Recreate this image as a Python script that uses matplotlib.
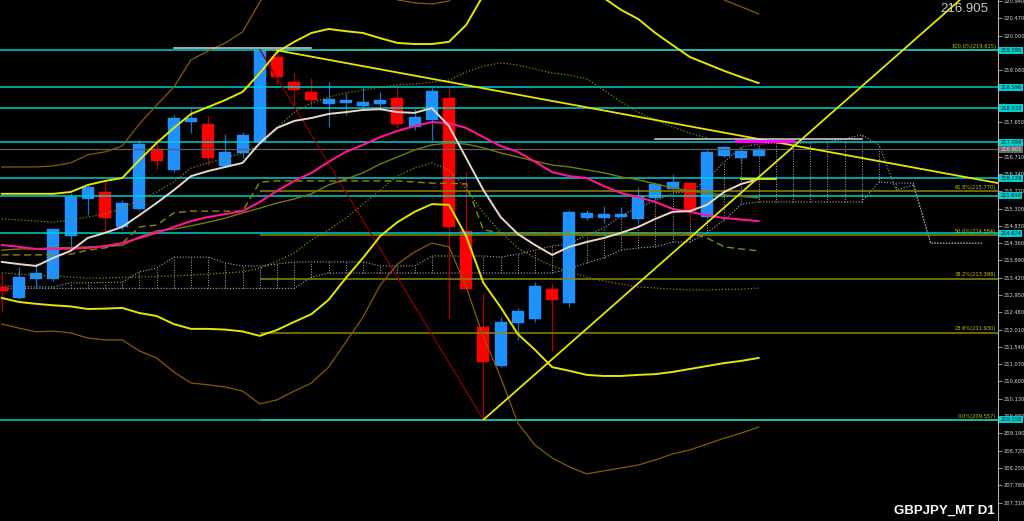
import matplotlib
matplotlib.use("Agg")
import matplotlib.pyplot as plt
import matplotlib.transforms as mtransforms
import numpy as np

# ---------------- data (prices) ----------------
opens = [213.18, 212.88, 213.38, 213.39, 214.56, 215.55, 215.75, 214.81, 215.29, 216.91,
         216.34, 217.65, 217.60, 216.46, 216.82, 217.12, 219.43, 218.75, 218.46, 218.13,
         218.16, 218.10, 218.15, 218.30, 217.52, 217.71, 218.30, 214.70, 212.09, 211.02,
         212.20, 212.30, 213.12, 212.73, 215.05, 215.05, 215.08, 215.01, 215.59, 215.84,
         215.99, 215.06, 216.73, 216.67, 216.73]
highs = [213.55, 213.72, 213.82, 214.77, 215.73, 215.94, 216.08, 215.53, 217.16, 217.21,
         217.84, 218.00, 217.82, 217.33, 217.39, 219.62, 219.56, 218.98, 218.84, 218.75,
         218.45, 218.61, 218.48, 218.57, 218.00, 218.57, 218.61, 216.30, 213.00, 212.36,
         212.59, 213.31, 213.27, 215.26, 215.26, 215.38, 215.35, 215.89, 216.03, 216.23,
         216.03, 216.89, 217.00, 216.91, 216.95]
lows = [212.49, 212.84, 213.17, 213.34, 214.26, 215.13, 214.67, 214.72, 215.26, 216.37,
        216.30, 217.36, 216.48, 216.44, 216.67, 217.11, 218.68, 218.07, 218.07, 217.52,
        217.84, 217.98, 217.98, 217.48, 217.43, 217.16, 212.32, 213.10, 209.56, 211.00,
        211.73, 212.23, 211.44, 212.63, 214.99, 214.90, 215.04, 214.94, 215.53, 215.80,
        214.94, 215.04, 216.70, 216.53, 216.70]
closes = [213.07, 213.45, 213.54, 214.74, 215.62, 215.88, 215.05, 215.46, 217.05, 216.59,
          217.76, 217.76, 216.68, 216.84, 217.29, 219.61, 218.87, 218.51, 218.25, 218.28,
          218.24, 218.19, 218.26, 217.61, 217.78, 218.50, 214.81, 213.11, 211.14, 212.21,
          212.51, 213.20, 212.82, 215.20, 215.19, 215.15, 215.14, 215.65, 215.97, 216.02,
          215.23, 216.83, 216.96, 216.86, 216.905]

ma_pink = [214.31, 214.26, 214.20, 214.20, 214.21, 214.23, 214.28, 214.36, 214.50, 214.64,
           214.80, 214.96, 215.07, 215.15, 215.23, 215.48, 215.78, 216.05, 216.27, 216.57,
           216.84, 217.03, 217.24, 217.41, 217.54, 217.65, 217.62, 217.49, 217.24, 217.00,
           216.84, 216.57, 216.29, 216.18, 216.13, 215.91, 215.72, 215.61, 215.48, 215.29,
           215.21, 215.12, 215.04, 215.00, 214.96]
ma_fast = [213.85, 213.79, 213.74, 213.96, 214.15, 214.50, 214.64, 214.80, 215.12, 215.45,
           215.80, 216.18, 216.32, 216.43, 216.54, 217.08, 217.49, 217.68, 217.76, 217.87,
           217.92, 217.98, 218.00, 217.92, 217.90, 218.03, 217.54, 216.67, 215.80, 215.07,
           214.61, 214.31, 214.04, 214.26, 214.39, 214.50, 214.64, 214.80, 215.02, 215.21,
           215.23, 215.40, 215.75, 215.97, 216.10]
ma_olive = [214.17, 214.20, 214.21, 214.23, 214.24, 214.26, 214.27, 214.30, 214.53, 214.69,
            214.74, 214.83, 214.93, 215.04, 215.18, 215.31, 215.45, 215.56, 215.70, 215.94,
            216.10, 216.27, 216.51, 216.70, 216.89, 217.03, 217.08, 217.05, 216.95, 216.81,
            216.70, 216.59, 216.48, 216.43, 216.35, 216.27, 216.16, 216.08, 215.97, 215.86,
            215.78, 215.72, 215.67, 215.63, 215.59]
kijun = [214.04, 214.04, 214.04, 214.04, 214.06, 214.17, 214.23, 214.36, 214.80, 214.85,
         215.18, 215.23, 215.23, 215.23, 215.23, 216.02, 216.05, 216.05, 216.05, 216.05,
         216.05, 216.05, 216.05, 216.05, 216.02, 215.99, 215.99, 215.97, 214.72, 214.64,
         214.64, 214.64, 214.64, 214.64, 214.64, 214.64, 214.64, 214.64, 214.64, 214.64,
         214.64, 214.50, 214.26, 214.20, 214.15]
bb_upper = [215.70, 215.70, 215.70, 215.70, 215.75, 215.94, 216.05, 216.13, 216.62, 217.08,
            217.49, 217.87, 218.06, 218.25, 218.47, 218.98, 219.55, 219.83, 220.07, 220.18,
            220.12, 220.07, 219.93, 219.80, 219.77, 219.77, 219.83, 220.29, 221.10, 222.33,
            223.28, 223.68, 223.55, 222.87, 221.92, 221.02, 220.70, 220.45, 220.07, 219.74,
            219.42, 219.23, 219.04, 218.87, 218.71]
bb_lower = [212.87, 212.76, 212.71, 212.67, 212.64, 212.57, 212.58, 212.60, 212.46, 212.38,
            212.16, 212.03, 212.03, 212.01, 211.96, 211.84, 212.00, 212.22, 212.43, 212.82,
            213.41, 213.96, 214.55, 214.93, 215.21, 215.42, 215.40, 214.55, 213.28, 212.62,
            211.89, 211.46, 210.99, 210.89, 210.78, 210.75, 210.75, 210.78, 210.80, 210.86,
            210.94, 211.02, 211.10, 211.16, 211.24]
outer_upper = [216.43, 216.43, 216.43, 216.46, 216.54, 216.76, 216.84, 217.00, 217.60, 218.11,
               218.60, 219.34, 219.58, 219.80, 220.10, 220.91, 221.65, 222.19, 222.46, 222.46,
               222.33, 222.05, 221.51, 220.97, 220.89, 220.86, 220.94, 221.37, 222.33, 223.68,
               224.77, 225.32, 225.32, 224.77, 223.96, 223.14, 222.60, 222.19, 221.92, 221.65,
               221.46, 221.24, 220.97, 220.78, 220.59]
outer_lower = [212.16, 212.05, 211.95, 211.97, 211.92, 211.78, 211.73, 211.73, 211.43, 211.24,
               210.86, 210.56, 210.51, 210.45, 210.34, 209.99, 210.10, 210.34, 210.56, 210.99,
               211.67, 212.35, 213.22, 213.79, 214.12, 214.36, 214.26, 213.17, 211.81, 210.72,
               209.47, 208.87, 208.52, 208.28, 208.09, 208.17, 208.25, 208.33, 208.47, 208.63,
               208.74, 208.90, 209.06, 209.20, 209.36]
mid_dotted_up = [215.02, 214.99, 214.96, 214.93, 214.99, 215.07, 215.15, 215.31, 215.53, 215.75,
                 216.02, 216.40, 216.54, 216.67, 216.81, 217.03, 217.49, 217.92, 218.17, 218.33,
                 218.44, 218.52, 218.60, 218.66, 218.68, 218.74, 218.79, 219.01, 219.17, 219.26,
                 219.20, 219.09, 218.98, 218.93, 218.82, 218.52, 218.20, 217.92, 217.71, 217.52,
                 217.35, 217.22]
mid_dotted_low = [213.55, 213.52, 213.49, 213.47, 213.44, 213.41, 213.41, 213.43, 213.44, 213.45,
                  213.47, 213.49, 213.52, 213.55, 213.58, 213.68, 213.87, 214.09, 214.45, 214.72,
                  215.04, 215.42, 215.80, 216.18, 216.40, 216.54, 216.35, 215.83, 215.18, 214.66,
                  214.23, 213.96, 213.74, 213.58, 213.44, 213.33, 213.25, 213.17, 213.14, 213.11,
                  213.09, 213.09, 213.10, 213.11, 213.14]
span_a = [213.20, 213.18, 213.17, 213.17, 213.28, 213.28, 213.29, 213.30, 213.58, 213.68,
          213.98, 213.98, 213.98, 213.82, 213.74, 213.74, 213.79, 213.85, 213.85, 213.85,
          213.85, 213.85, 213.74, 213.74, 213.74, 214.01, 214.01, 214.01, 214.01, 213.98,
          214.06, 214.17, 214.28, 214.34, 214.58, 214.77, 215.10, 215.34, 215.51, 215.72,
          215.75, 216.08, 216.57, 216.97, 217.05, 217.08, 217.08, 217.08, 217.11, 217.19,
          217.30, 217.03, 215.80, 215.94, 214.36, 214.36, 214.36, 214.36]
span_b = [213.13] * 18 + [213.44, 213.55, 213.55, 213.55, 213.55, 213.55, 213.55, 213.55,
                          213.55, 213.55, 213.55, 213.55, 213.55, 213.55, 213.55, 213.66,
                          213.82, 213.96, 214.17, 214.23, 214.26, 214.39, 214.39, 214.64,
                          214.99, 215.42, 215.48, 215.48, 215.48, 215.48, 215.48, 215.48,
                          215.48, 216.02, 215.99, 215.99, 214.36, 214.36, 214.36, 214.36]

cyan_levels = [219.595, 218.596, 218.032, 217.099, 216.129, 215.646, 214.624, 209.558]
last_price = 216.905
fib_labels = ["100.0%", "61.8%", "50.0%", "38.2%", "23.6%", "0.0%"]
fib_prices = [219.615, 215.770, 214.584, 213.398, 211.930, 209.557]
fib_start_bar = 15
axis_ticks = [round(220.940 - 0.47 * k, 3) for k in range(30)]

# trend lines (bar, price) anchors
trend_down = [(16, 219.60), (44, 217.19)]
trend_up = [(28, 209.56), (44, 216.15)]
fib_base = [(15, 219.62), (28, 209.56)]
# horizontal segments: (bar_from, bar_to, price)
white_segs = [(10, 18, 219.65), (38, 50, 217.19)]
magenta_seg = (42.7, 46, 217.14)
yellow_seg = (43, 45, 216.10)

symbol_text = "GBPJPY_MT D1"

# ---------------- figure ----------------
W, H = 1024, 521
fig = plt.figure(figsize=(W / 100, H / 100), dpi=100, facecolor="black")
ax_w = 998 / W
ax = fig.add_axes([0, 0, ax_w, 1])
ax.set_facecolor("black")
bar_px = 17.2
x_left = -1.8 / bar_px
x_right = x_left + 998 / bar_px
ax.set_xlim(x_left, x_right)
ax.set_ylim(206.809, 220.967)

n = len(closes)
xs = np.arange(n)

# cloud (grey dotted)
xc = np.arange(len(span_a))
dot = (0, (1, 1.6))
ax.plot(xc, span_a, color="#A8A8A8", lw=0.8, ls=dot, zorder=2)
ax.plot(xc, span_b, color="#A8A8A8", lw=0.8, ls=dot, zorder=2)
lo = np.minimum(span_a, span_b)
hi = np.maximum(span_a, span_b)
ax.vlines(xc, lo, hi, colors="#A8A8A8", lw=0.7, linestyles=dot, zorder=2)

# candles
for i in range(n):
    up = closes[i] >= opens[i]
    col = "#1E90FF" if up else "#FF0000"
    wick = "#1E70C0" if up else "#B00000"
    ax.vlines(i, lows[i], highs[i], colors=wick, lw=0.9, zorder=3)
    b0 = min(opens[i], closes[i])
    bh = max(abs(closes[i] - opens[i]), 0.03)
    ax.bar(i, bh, bottom=b0, width=0.7, color=col, edgecolor=col, lw=0.3, zorder=4)

# horizontal lines
ax.axhline(last_price, color="#606060", lw=0.9, zorder=5)
ax.hlines(fib_prices, fib_start_bar, x_right, colors="#8A8A00", lw=1.1, zorder=5)
ax.hlines(cyan_levels, x_left, x_right, colors="#00CED1", lw=1.1, zorder=6)

# indicators
ax.plot(xs, outer_upper, color="#8B5A00", lw=0.9, zorder=7)
ax.plot(xs, outer_lower, color="#8B5A00", lw=0.9, zorder=7)
ax.plot(xs, bb_upper, color="#E6E600", lw=1.4, zorder=8)
ax.plot(xs, bb_lower, color="#E6E600", lw=1.4, zorder=8)
ax.plot(np.arange(len(mid_dotted_up)), mid_dotted_up, color="#8A8A00", lw=0.9, ls=dot, zorder=7)
ax.plot(xs, mid_dotted_low, color="#8A8A00", lw=0.9, ls=dot, zorder=7)
ax.plot(xs, ma_olive, color="#7A7A00", lw=1.0, zorder=7)
ax.plot(xs, kijun, color="#8A8A00", lw=1.0, ls=(0, (5, 3)), zorder=7)
ax.plot(xs, ma_pink, color="#FF1493", lw=1.5, zorder=9)
ax.plot(xs, ma_fast, color="#E8D8C8", lw=1.4, zorder=9)

# trend lines
def ray(p, color, lw, end=None):
    (x1, y1), (x2, y2) = p
    slope = (y2 - y1) / (x2 - x1)
    xe = x_right if end is None else end
    ax.plot([x1, xe], [y1, y1 + slope * (xe - x1)], color=color, lw=lw, zorder=10)

ray(trend_down, "#E6E600", 1.3)
ray(trend_up, "#E6E600", 1.3)
(fx1, fy1), (fx2, fy2) = fib_base
ax.plot([fx1, fx2], [fy1, fy2], color="#8B0000", lw=0.9, zorder=6)
for a, b, p in white_segs:
    ax.plot([a, b], [p, p], color="#D8D8D8", lw=1.1, zorder=10)
ax.plot([magenta_seg[0], magenta_seg[1]], [magenta_seg[2]] * 2, color="#FF00FF", lw=2.2, zorder=11)
ax.plot([yellow_seg[0], yellow_seg[1]], [yellow_seg[2]] * 2, color="#E6E600", lw=1.3, zorder=10)

# axis
for s in ["top", "left", "bottom"]:
    ax.spines[s].set_visible(False)
ax.spines["right"].set_color("#B0B0B0")
ax.spines["right"].set_linewidth(0.8)
ax.set_xticks([])
ax.yaxis.tick_right()
ax.set_yticks(axis_ticks)
# labels hidden behind the price boxes are left blank, as in the terminal
shown = [f"{t:.3f}" if min(abs(t - c) for c in cyan_levels) > 0.09 else "" for t in axis_ticks]
ax.set_yticklabels(shown)
ax.tick_params(axis="y", direction="out", length=3, width=0.6, color="#B0B0B0",
               labelcolor="#D8D8D8", labelsize=3.7, pad=1)

trans = mtransforms.blended_transform_factory(ax.transAxes, ax.transData)
for p in cyan_levels:
    ax.text(1.0025, p, f"{p:.3f}", transform=trans, fontsize=3.7, color="#002020",
            va="center", ha="left", clip_on=False, zorder=20,
            bbox=dict(boxstyle="square,pad=0.2", fc="#00CED1", ec="none"))
ax.text(1.0025, last_price, f"{last_price:.3f}", transform=trans, fontsize=3.7, color="#E0E0E0",
        va="center", ha="left", clip_on=False, zorder=20,
        bbox=dict(boxstyle="square,pad=0.2", fc="#6A6A6A", ec="none"))
for lab, p in zip(fib_labels, fib_prices):
    ax.text(0.998, p + 0.03, f"{lab}({p:.3f})", transform=trans, fontsize=3.7,
            color="#C8C800", ha="right", va="bottom", zorder=20)

fig.text(988 / W, 1 - 9 / H, f"{last_price:.3f}", fontsize=9.5, color="#C8C8C8",
         ha="right", va="center", family="Liberation Sans")
fig.text(995 / W, 1 - 511 / H, symbol_text, fontsize=9.5, color="white", weight="bold",
         ha="right", va="center", family="Liberation Sans")

fig.savefig("out.png", dpi=100, facecolor="black")
